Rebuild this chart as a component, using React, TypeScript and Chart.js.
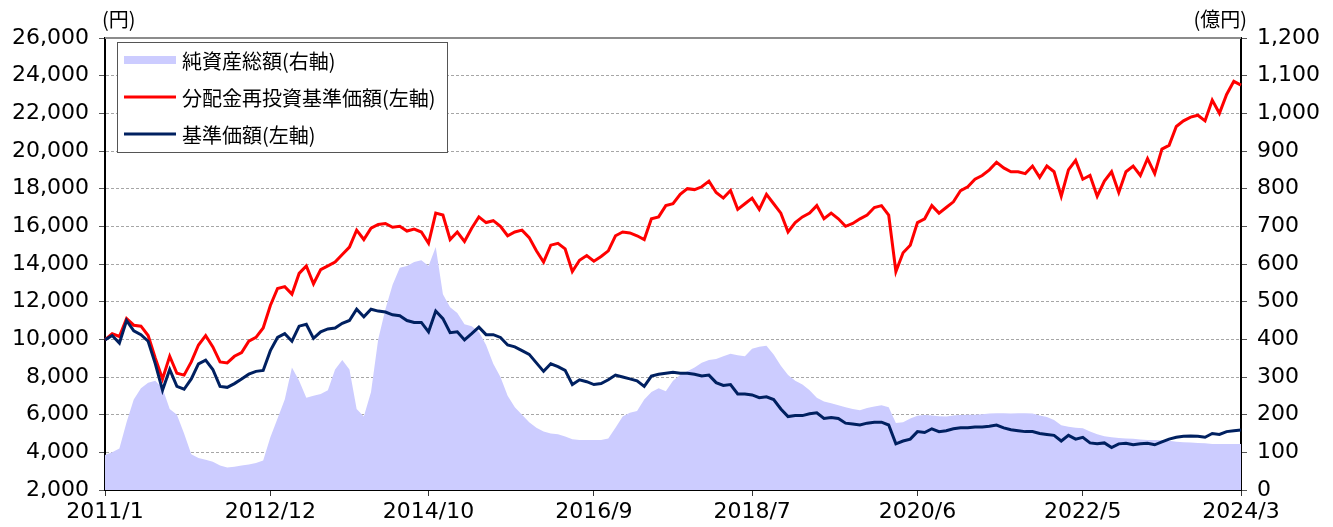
import React, { useEffect, useRef } from "react";
import { Chart, registerables } from "chart.js";

Chart.register(...registerables);

// ---- data ----
const START_YEAR = 2011;
const START_MONTH = 1;

const X_TICK_LABELS = ["2011/1", "2012/12", "2014/10", "2016/9", "2018/7", "2020/6", "2022/5", "2024/3"];

const LEFT_MIN = 2000;
const LEFT_MAX = 26000;
const LEFT_STEP = 2000;
const RIGHT_MIN = 0;
const RIGHT_MAX = 1200;
const RIGHT_STEP = 100;

const LEFT_UNIT = "(円)";
const RIGHT_UNIT = "(億円)";

const SERIES_NAMES = ["純資産総額(右軸)", "分配金再投資基準価額(左軸)", "基準価額(左軸)"];

// 純資産総額 (億円, right axis), monthly
const NET_ASSETS = [
  93, 100, 110, 180, 240, 270, 285, 290, 270, 215,
  200, 150, 95, 85, 80, 75, 65, 60, 62, 65,
  68, 72, 78, 140, 190, 240, 325, 290, 245, 250,
  255, 265, 320, 345, 320, 215, 195, 260, 400, 480,
  545, 590, 595, 605, 610, 595, 645, 520, 485, 470,
  440, 435, 420, 385, 335, 300, 250, 220, 200, 180,
  165, 155, 150, 148, 142, 135, 133, 133, 133, 133,
  137, 165, 195, 205, 210, 240, 260, 270, 262, 290,
  305, 315, 325, 338, 345, 348, 355, 362, 358, 355,
  375, 380, 383, 360, 330, 305, 290, 280, 265, 245,
  235, 230, 225, 220, 215, 212, 218, 222, 225, 220,
  178, 180, 190, 197, 199, 198, 196, 195, 198, 199,
  200, 200, 201, 203, 204, 204, 203, 204, 204, 203,
  198, 194, 186, 172, 168, 165, 164, 155, 148, 143,
  140, 138, 137, 136, 134, 133, 133, 132, 131, 128,
  127, 126, 125, 124, 122, 122, 122, 122, 122,
];

// 分配金再投資基準価額 (円, left axis), monthly
const REINVESTED_NAV = [
  9970, 10300, 10150, 11100, 10750, 10700, 10200, 9000, 7900, 9100,
  8200, 8100, 8800, 9700, 10200, 9600, 8800, 8750, 9100, 9300,
  9900, 10100, 10600, 11800, 12700, 12800, 12400, 13500, 13900, 12950,
  13700, 13900, 14100, 14500, 14900, 15800, 15300, 15900, 16100, 16150,
  15950, 16000, 15750, 15850, 15700, 15100, 16700, 16600, 15300, 15700,
  15200, 15900, 16500, 16200, 16300, 16000, 15500, 15700, 15800, 15400,
  14700, 14100, 15000, 15100, 14800, 13600, 14200, 14450, 14150, 14400,
  14700, 15500, 15700, 15650, 15500, 15300, 16400, 16500, 17100, 17200,
  17700, 18000, 17950, 18100, 18400, 17800, 17500, 17900, 16900, 17200,
  17500, 16900, 17700, 17200, 16700, 15700, 16200, 16500, 16700, 17100,
  16400, 16700, 16400, 16000, 16150, 16400, 16600, 17000, 17100, 16600,
  13600, 14600, 15000, 16200, 16400, 17100, 16700, 17000, 17300, 17900,
  18100, 18500, 18700, 19000, 19400, 19100, 18900, 18900, 18800, 19200,
  18600, 19200, 18900, 17600, 19000, 19500, 18500, 18700, 17600, 18400,
  18900, 17800, 18900, 19200, 18700, 19600, 18800, 20100, 20300, 21300,
  21600, 21800, 21900, 21600, 22700, 22000, 23000, 23700, 23500,
];

// 基準価額 (円, left axis), monthly
const NAV = [
  9970, 10200, 9800, 11000, 10450, 10250, 9900, 8700, 7300, 8400,
  7500, 7350, 7900, 8700, 8900, 8400, 7500, 7450, 7650, 7900,
  8150, 8300, 8350, 9400, 10100, 10300, 9900, 10700, 10800, 10050,
  10400, 10550, 10600, 10850, 11000, 11600, 11200, 11600, 11500, 11450,
  11300, 11250, 11000, 10900, 10900, 10400, 11500, 11100, 10350, 10400,
  9970, 10300, 10650, 10250, 10250, 10100, 9700, 9600, 9400, 9200,
  8750, 8300, 8700, 8550, 8350, 7600, 7850, 7750, 7600, 7650,
  7850, 8100, 8000, 7900, 7800, 7500, 8050, 8150, 8200, 8250,
  8200, 8200, 8150, 8050, 8100, 7700, 7550, 7600, 7100, 7100,
  7050, 6900, 6950, 6800, 6300, 5900, 5950, 5950, 6050, 6100,
  5800, 5850, 5800, 5550, 5500, 5450, 5550, 5600, 5600, 5450,
  4450, 4600, 4700, 5100, 5050, 5250, 5100, 5150, 5250, 5300,
  5300, 5350, 5350, 5380, 5450, 5300, 5200, 5150, 5100, 5100,
  5000, 4950, 4900, 4600, 4900, 4700, 4800, 4500, 4450, 4500,
  4250, 4450, 4480, 4400, 4450, 4480, 4400, 4550, 4700, 4800,
  4850, 4870, 4850, 4800, 5000, 4950, 5100, 5150, 5180,
];

const MONTH_LABELS: string[] = [];
for (let i = 0; i < NAV.length; i++) {
  const total = START_MONTH - 1 + i;
  MONTH_LABELS.push(`${START_YEAR + Math.floor(total / 12)}/${(total % 12) + 1}`);
}

// ---- styles ----
const AREA_COLOR = "#CCCCFF";
const RED = "#FF0000";
const NAVY = "#002060";
const NUM_FONT = "DejaVu Sans";
const JP_FONT = '"Noto Sans CJK JP", "Noto Sans", sans-serif';

const fmt = (v: number) => v.toLocaleString("en-US");

const overlayPlugin = {
  id: "overlay",
  beforeDatasetsDraw(chart: any) {
    const { ctx, chartArea: ca } = chart;
    ctx.save();
    ctx.strokeStyle = "#8c8c8c";
    ctx.lineWidth = 2;
    ctx.beginPath();
    ctx.moveTo(ca.left, ca.top);
    ctx.lineTo(ca.right, ca.top);
    ctx.stroke();
    ctx.restore();
  },
  afterDraw(chart: any) {
    const { ctx, chartArea: ca } = chart;
    ctx.save();
    // unit titles
    ctx.fillStyle = "#000";
    ctx.font = `20px ${JP_FONT}`;
    ctx.textBaseline = "middle";
    ctx.textAlign = "left";
    ctx.fillText(LEFT_UNIT, ca.left - 3, ca.top - 19);
    ctx.textAlign = "right";
    ctx.fillText(RIGHT_UNIT, ca.right + 6, ca.top - 19);

    // legend box
    const bx = ca.left + 12;
    const by = ca.top + 4;
    const bw = 330;
    const bh = 110;
    ctx.fillStyle = "#fff";
    ctx.fillRect(bx, by, bw, bh);
    ctx.strokeStyle = "#555";
    ctx.lineWidth = 1;
    ctx.strokeRect(bx + 0.5, by + 0.5, bw, bh);

    const ds = chart.data.datasets;
    // legend order: area, red, navy
    const items = [ds[2], ds[1], ds[0]];
    ctx.font = `20px ${JP_FONT}`;
    ctx.textAlign = "left";
    ctx.textBaseline = "middle";
    items.forEach((d: any, i: number) => {
      const cy = by + 18 + i * 37;
      const sx = bx + 7;
      const sw = 52;
      if (d.fill) {
        ctx.fillStyle = d.backgroundColor;
        ctx.fillRect(sx, cy - 4, sw, 8);
      } else {
        ctx.strokeStyle = d.borderColor;
        ctx.lineWidth = 3;
        ctx.beginPath();
        ctx.moveTo(sx, cy);
        ctx.lineTo(sx + sw, cy);
        ctx.stroke();
      }
      ctx.fillStyle = "#000";
      ctx.fillText(d.label, sx + sw + 6, cy + 1);
    });
    ctx.restore();
  },
};

export default function App() {
  const ref = useRef<HTMLCanvasElement | null>(null);

  useEffect(() => {
    if (!ref.current) return;
    const chart = new Chart(ref.current, {
      type: "line",
      data: {
        labels: MONTH_LABELS,
        datasets: [
          {
            label: SERIES_NAMES[2],
            data: NAV,
            yAxisID: "y",
            borderColor: NAVY,
            backgroundColor: NAVY,
            borderWidth: 3,
            pointRadius: 0,
            fill: false,
            tension: 0,
          },
          {
            label: SERIES_NAMES[1],
            data: REINVESTED_NAV,
            yAxisID: "y",
            borderColor: RED,
            backgroundColor: RED,
            borderWidth: 3,
            pointRadius: 0,
            fill: false,
            tension: 0,
          },
          {
            label: SERIES_NAMES[0],
            data: NET_ASSETS,
            yAxisID: "y1",
            borderColor: AREA_COLOR,
            backgroundColor: AREA_COLOR,
            borderWidth: 0,
            pointRadius: 0,
            fill: "origin",
            tension: 0,
          },
        ],
      },
      options: {
        responsive: false,
        animation: false,
        devicePixelRatio: 1,
        layout: { padding: { top: 38, left: 0, right: 0, bottom: 0 } },
        plugins: {
          legend: { display: false },
          tooltip: { enabled: false },
          title: { display: false },
        },
        scales: {
          x: {
            type: "category",
            offset: false,
            afterFit: (s: any) => {
              s.height = 37;
            },
            afterBuildTicks: (s: any) => {
              const labels = s.getLabels();
              s.ticks = s.ticks.filter((t: any) => X_TICK_LABELS.includes(labels[t.value]));
            },
            ticks: {
              autoSkip: false,
              maxRotation: 0,
              minRotation: 0,
              padding: 3,
              color: "#000",
              font: { family: NUM_FONT, size: 22 },
              callback: function (this: any, v: any) {
                return this.getLabelForValue(v);
              },
            },
            grid: {
              drawOnChartArea: false,
              drawTicks: true,
              tickLength: 6,
              tickColor: "#333",
              tickWidth: 1,
            },
            border: { display: true, color: "#000", width: 2 },
          },
          y: {
            type: "linear",
            position: "left",
            min: LEFT_MIN,
            max: LEFT_MAX,
            afterFit: (s: any) => {
              s.width = 105;
            },
            ticks: {
              stepSize: LEFT_STEP,
              padding: 10,
              color: "#000",
              font: { family: NUM_FONT, size: 22 },
              callback: (v: any) => fmt(Number(v)),
            },
            grid: {
              drawOnChartArea: true,
              drawTicks: true,
              tickLength: 6,
              tickColor: "#555",
              tickWidth: 1,
              tickBorderDash: [],
              lineWidth: 1,
              color: (c: any) =>
                c.tick && (c.tick.value === LEFT_MAX || c.tick.value === LEFT_MIN)
                  ? "rgba(0,0,0,0)"
                  : "#a6a6a6",
            },
            border: { display: true, color: "#000", width: 2, dash: [3, 2] },
          },
          y1: {
            type: "linear",
            position: "right",
            min: RIGHT_MIN,
            max: RIGHT_MAX,
            afterFit: (s: any) => {
              s.width = 92;
            },
            ticks: {
              stepSize: RIGHT_STEP,
              padding: 10,
              color: "#000",
              font: { family: NUM_FONT, size: 22 },
              callback: (v: any) => fmt(Number(v)),
            },
            grid: {
              drawOnChartArea: false,
              drawTicks: true,
              tickLength: 6,
              tickColor: "#555",
              tickWidth: 1,
            },
            border: { display: true, color: "#000", width: 2 },
          },
        },
      },
      plugins: [overlayPlugin],
    });
    return () => chart.destroy();
  }, []);

  return (
    <div style={{ position: "absolute", left: 0, top: 0, width: 1333, height: 527, background: "#fff" }}>
      <canvas ref={ref} width={1333} height={527} />
    </div>
  );
}
